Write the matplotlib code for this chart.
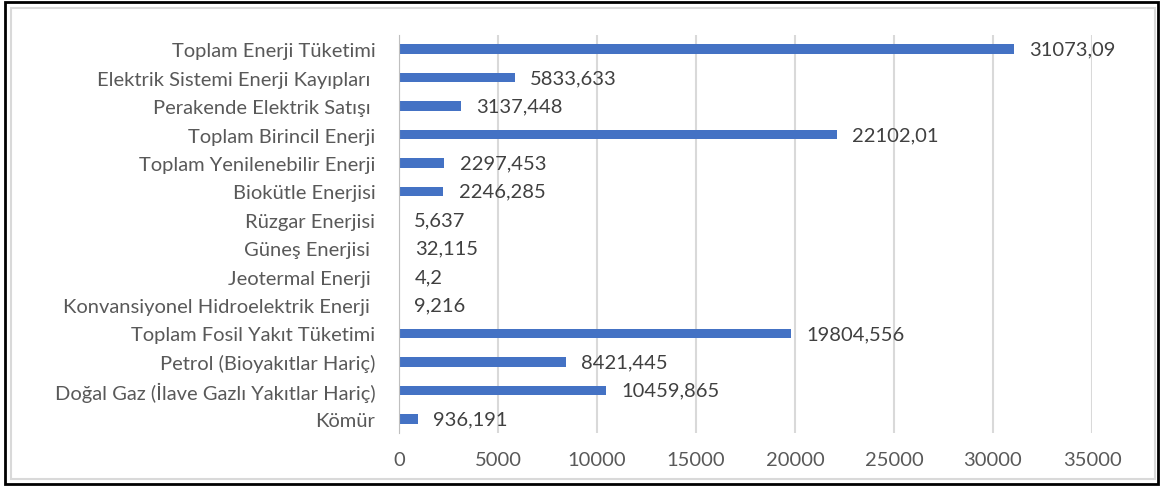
import matplotlib
matplotlib.use('Agg')
import matplotlib.pyplot as plt
from matplotlib.patches import Rectangle

plt.rcParams['font.family'] = ['Lato', 'DejaVu Sans']

# category labels (top to bottom as in the chart)
categories = [
    'Toplam Enerji Tüketimi',
    'Elektrik Sistemi Enerji Kayıpları ',
    'Perakende Elektrik Satışı ',
    'Toplam Birincil Enerji',
    'Toplam Yenilenebilir Enerji',
    'Biokütle Enerjisi',
    'Rüzgar Enerjisi',
    'Güneş Enerjisi ',
    'Jeotermal Enerji ',
    'Konvansiyonel Hidroelektrik Enerji ',
    'Toplam Fosil Yakıt Tüketimi',
    'Petrol (Bioyakıtlar Hariç)',
    'Doğal Gaz (İlave Gazlı Yakıtlar Hariç)',
    'Kömür',
]
values = [31073.09, 5833.633, 3137.448, 22102.01, 2297.453, 2246.285, 5.637,
          32.115, 4.2, 9.216, 19804.556, 8421.445, 10459.865, 936.191]
xticks = [0, 5000, 10000, 15000, 20000, 25000, 30000, 35000]

BAR = '#4472C4'
TXT = '#595959'
GRID = '#D9D9D9'

fig = plt.figure(figsize=(11.63, 4.89), dpi=100)
ax = fig.add_axes([399/1163, 1 - 434/489, (1092 - 399)/1163, (434 - 36)/489])

y = list(range(len(categories)))
ax.barh(y, values, height=0.34, color=BAR, zorder=3)
ax.set_ylim(len(categories) - 0.5, -0.5)
ax.set_xlim(0, 35000)

for yi, v in zip(y, values):
    ax.annotate(str(v).replace('.', ','), (v, yi), xytext=(11, 0), textcoords='offset points',
                ha='left', va='center', fontsize=14.5, color='#404040')

ax.set_yticks(y)
ax.set_yticklabels(categories, fontsize=14.5, color=TXT)
ax.set_xticks(xticks)
ax.set_xticklabels([str(t) for t in xticks], fontsize=14.5, color=TXT)
ax.tick_params(axis='y', length=0, pad=17)
ax.tick_params(axis='x', length=0, pad=13)

ax.grid(axis='x', color=GRID, linewidth=1.5, zorder=0)
for s in ['top', 'right', 'bottom']:
    ax.spines[s].set_visible(False)
ax.spines['left'].set_color('#BFBFBF')
ax.spines['left'].set_zorder(4)

# frame: outer black, inner light gray
fig.patches.append(Rectangle((5/1163, 4/489), 1153/1163, 482/489, transform=fig.transFigure,
                             fill=False, edgecolor='black', linewidth=2))
fig.patches.append(Rectangle((11/1163, 9/489), 1144/1163, 471/489, transform=fig.transFigure,
                             fill=False, edgecolor='#D9D9D9', linewidth=1.5))

fig.savefig('out.png', dpi=100)
